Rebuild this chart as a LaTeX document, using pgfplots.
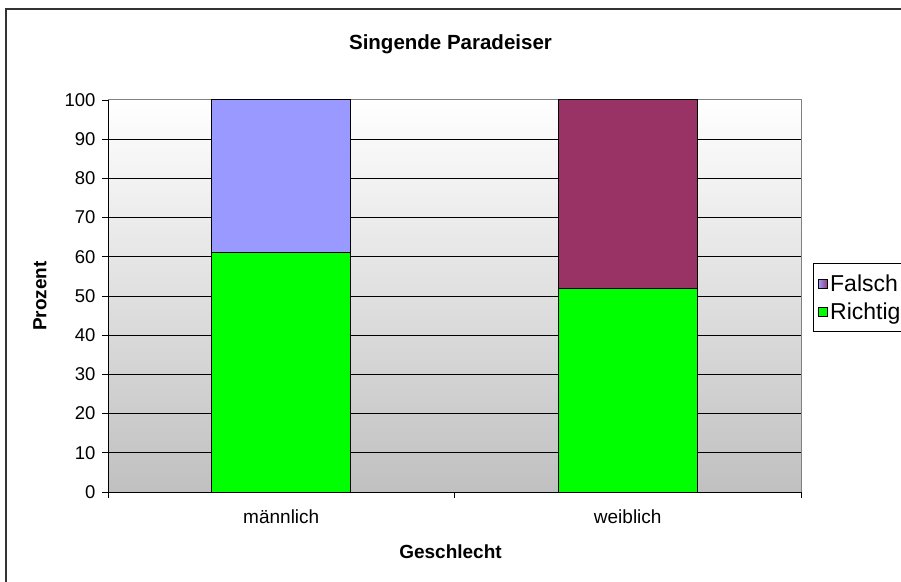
\documentclass[border=0pt]{standalone}
\usepackage{fontspec}
\setmainfont{Liberation Sans}
\usepackage{pgfplots}
\pgfplotsset{compat=1.18}
\definecolor{richtig}{HTML}{00FF00}
\definecolor{falschm}{HTML}{9999FF}
\definecolor{falschw}{HTML}{993366}
\definecolor{bgbottom}{HTML}{C0C0C0}
\definecolor{frame}{HTML}{333333}
\begin{document}
\begin{tikzpicture}
\useasboundingbox (0bp,0bp) rectangle (901bp,582bp);
\draw[line width=2bp, color=frame] (6bp,-5bp) -- (6bp,573bp) -- (910bp,573bp);
\begin{axis}[
  at={(108bp,90bp)}, anchor=south west,
  width=693bp, height=392bp, scale only axis,
  ybar stacked, bar width=0.4,
  xmin=-0.5, xmax=1.5, ymin=0, ymax=100,
  xtick={0,1}, xticklabels={männlich, weiblich},
  major x tick style={draw=none},
  minor xtick={-0.5,0.5,1.5},
  minor tick length=6bp,
  minor x tick style={black, line width=0.8bp},
  ytick={0,10,...,90}, extra y ticks={100},
  extra y tick style={grid=none},
  tick align=outside, major tick length=6bp,
  y tick style={black, line width=0.8bp},
  ymajorgrids, grid style={black, line width=0.8bp},
  axis x line*=bottom, axis y line*=left,
  axis line style={black, line width=1bp, -},
  axis background/.style={top color=white, bottom color=bgbottom, draw=gray, line width=1bp},
  /pgf/number format/assume math mode=true,
  tick label style={font=\fontsize{19bp}{21bp}\selectfont},
  y tick label style={xshift=-3bp, font=\fontsize{18.5bp}{21bp}\selectfont},
  x tick label style={yshift=-8bp},
  title={Singende Paradeiser},
  title style={at={(rel axis cs:0.5,1)}, anchor=center, yshift=50bp, xshift=-4bp, font=\bfseries\fontsize{20.5bp}{23bp}\selectfont},
  xlabel={Geschlecht},
  xlabel style={at={(rel axis cs:0.5,0)}, anchor=center, yshift=-60bp, xshift=-4bp, font=\bfseries\fontsize{19bp}{22bp}\selectfont},
  ylabel={Prozent},
  ylabel style={at={(rel axis cs:0,0.5)}, anchor=center, yshift=68bp, font=\bfseries\fontsize{19bp}{22bp}\selectfont},
  legend style={at={(rel axis cs:1.0173,0.584)}, anchor=north west, draw=black, line width=0.8bp,
    font=\fontsize{23bp}{25bp}\selectfont, row sep=6bp, inner xsep=5bp, inner ysep=9bp},
  legend cell align=left,
  legend image code/.code={\draw[#1, draw=black, line width=0.8bp] (0bp,-4.5bp) rectangle (9bp,4.5bp);},
]
\addlegendimage{legend image code/.code={\draw[draw=black, line width=0.8bp, left color=falschm, right color=falschw] (0bp,-4.5bp) rectangle (9bp,4.5bp);}}
\addlegendentry{Falsch}
\addlegendimage{fill=richtig}
\addlegendentry{Richtig}
\addplot[fill=richtig, draw=black, line width=1bp] coordinates {(0,61) (1,52)};
\addplot[fill=falschm, draw=black, line width=1bp] coordinates {(0,39) (1,0)};
\addplot[fill=falschw, draw=black, line width=1bp] coordinates {(0,0) (1,48)};
\end{axis}
\end{tikzpicture}
\end{document}
